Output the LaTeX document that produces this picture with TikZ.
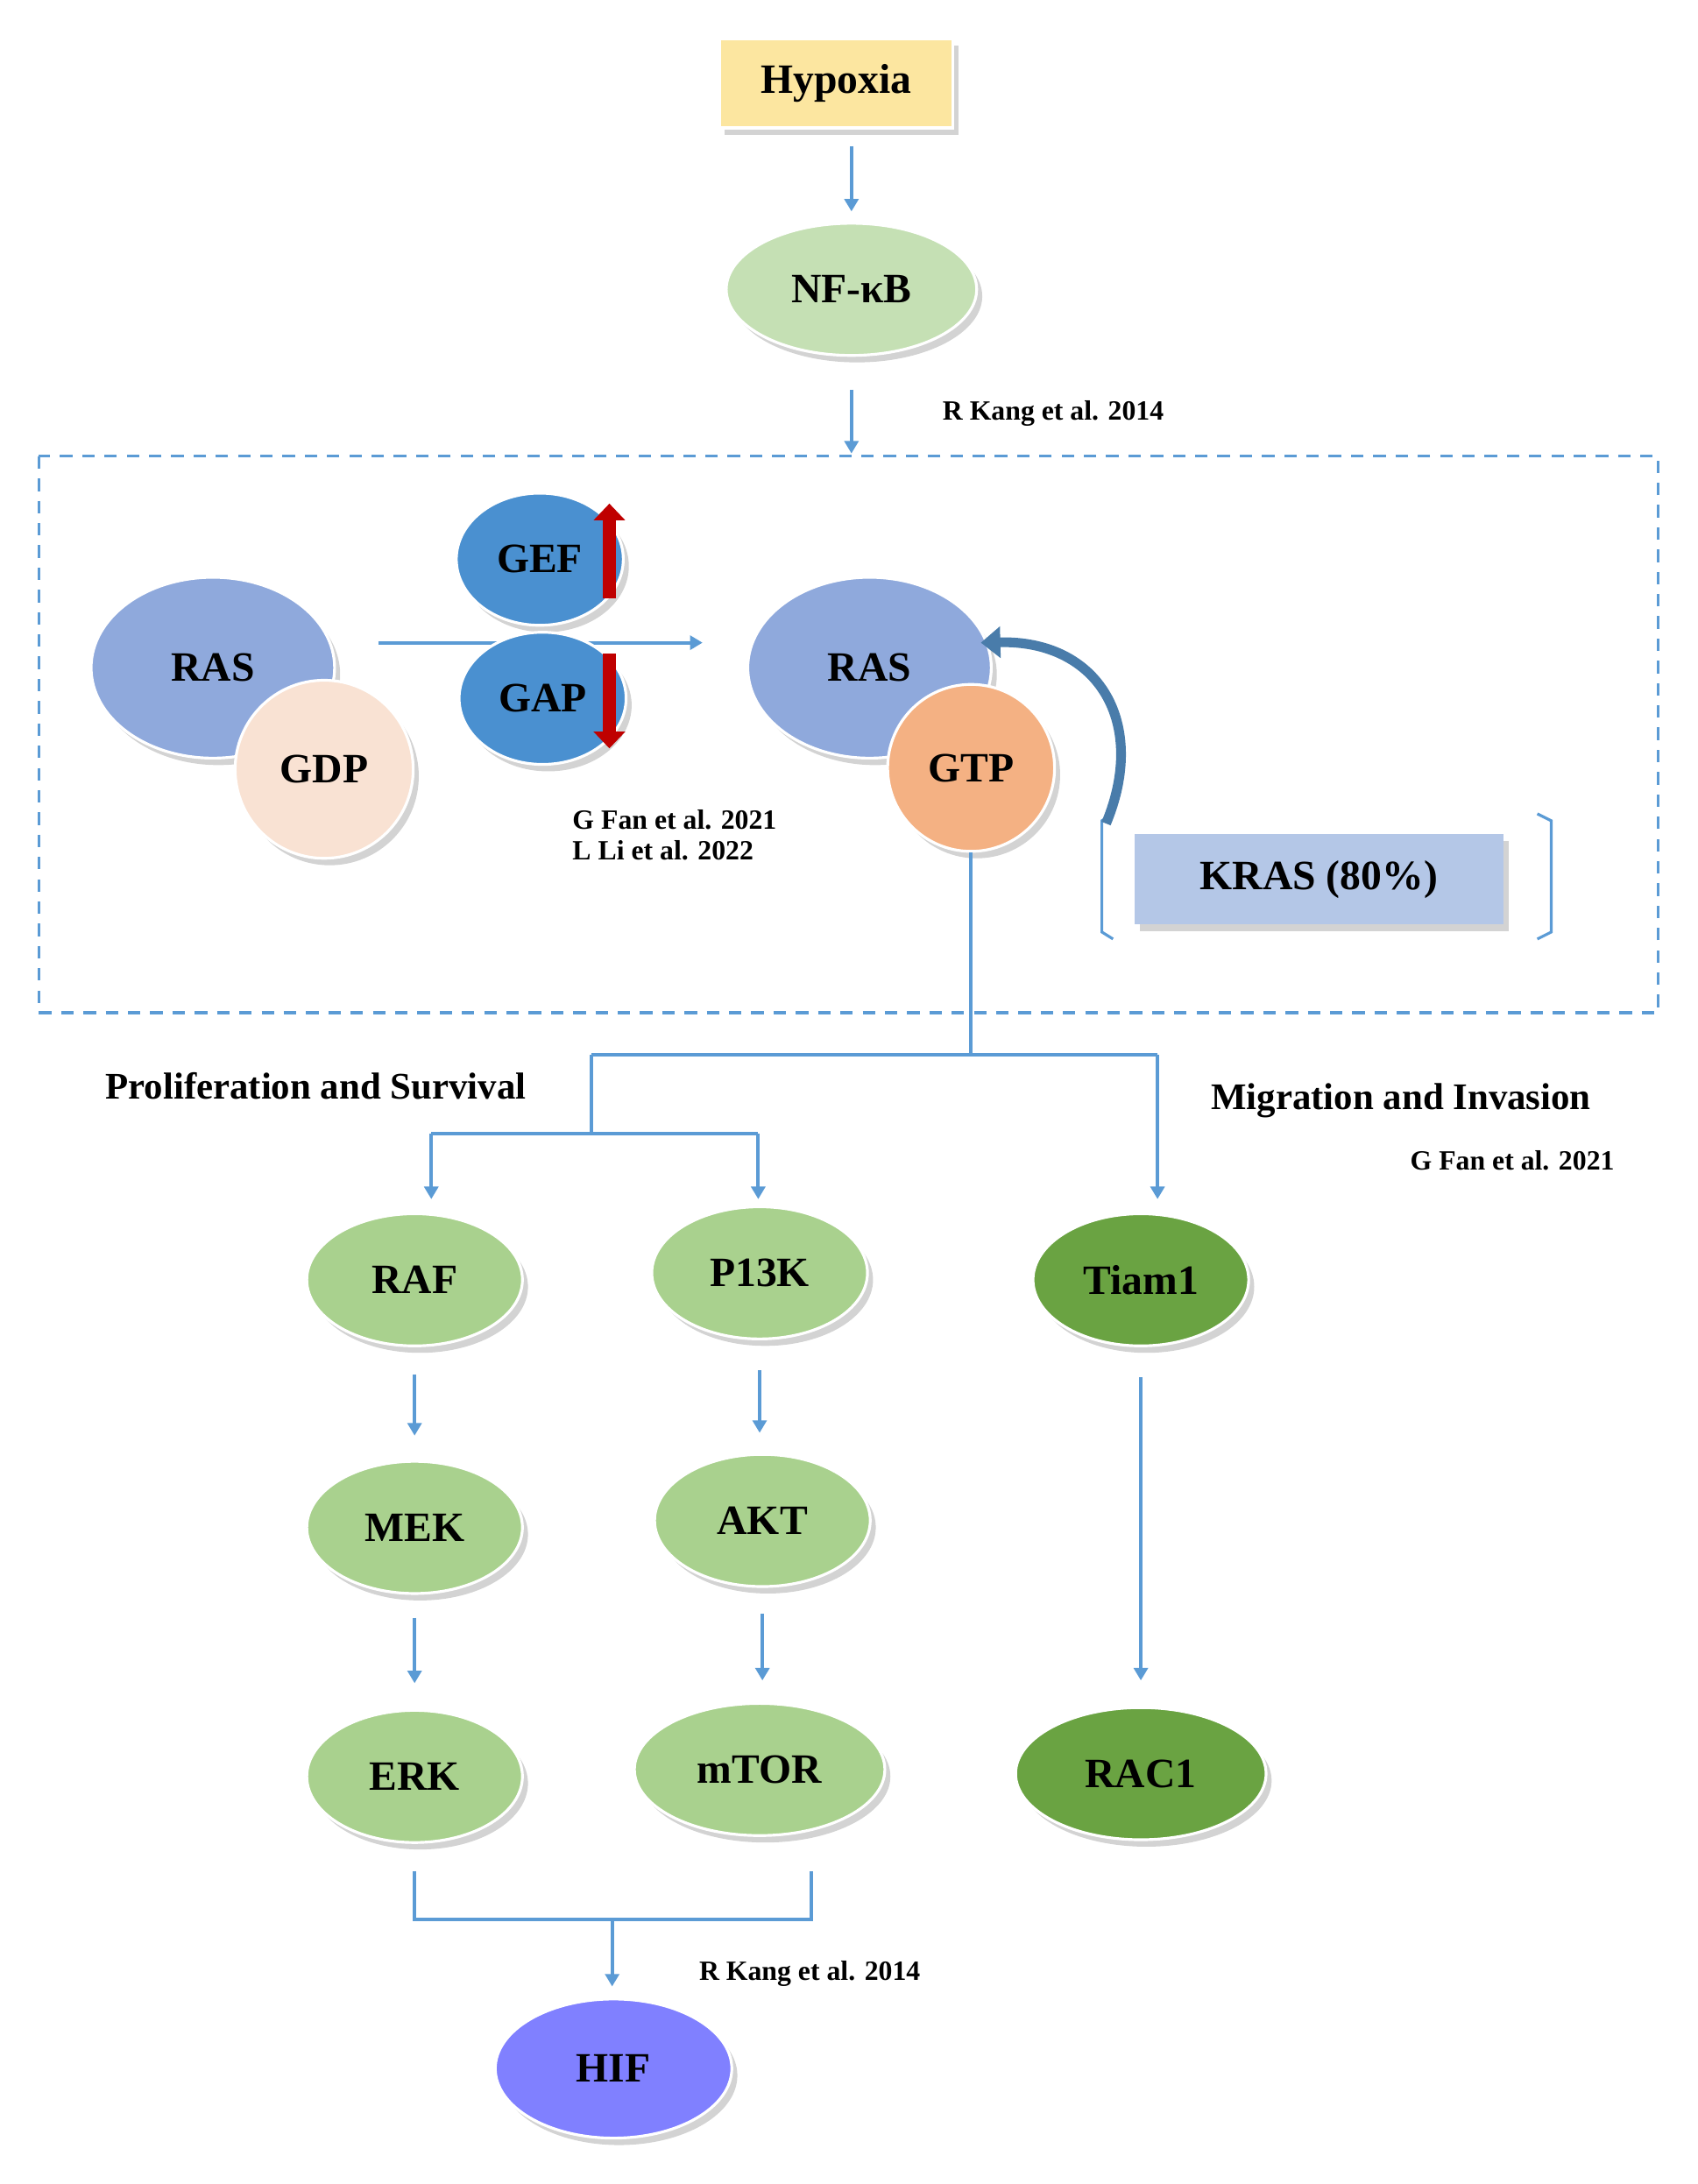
\documentclass[tikz,border=0pt]{standalone}
\usepackage{fontspec}
\setmainfont{Liberation Serif}
\usetikzlibrary{shapes.geometric,shadows,arrows.meta}
\definecolor{ln}{HTML}{5B9BD5}
\definecolor{lg}{HTML}{A9D18E}
\definecolor{dg}{HTML}{6AA342}
\begin{document}
\begin{tikzpicture}[x=1pt,y=-1pt,
 el/.style={ellipse,draw=white,line width=2pt,drop shadow={shadow xshift=4pt,shadow yshift=-5pt,opacity=.35},font=\bfseries\fontsize{30}{32}\selectfont,inner sep=0pt},
 gr/.style={el,fill=lg,minimum width=155,minimum height=95},
 ar/.style={ln,line width=2.5pt,-{Triangle[length=9pt,width=10pt]}},
 li/.style={ln,line width=2.5pt},
 ref/.style={font=\bfseries\fontsize{20}{22}\selectfont},
 lab/.style={font=\bfseries\fontsize{27}{29}\selectfont}]
\useasboundingbox (0,0) rectangle (1220,1570);
\node (hyp) [draw=white,line width=2pt,fill={rgb,255:red,252;green,230;blue,160},minimum width=168,minimum height=64,drop shadow={shadow xshift=4pt,shadow yshift=-5pt,opacity=.35},font=\bfseries\fontsize{30}{32}\selectfont] at (601,60) {Hypoxia};
\node (nf) [el,fill={rgb,255:red,197;green,224;blue,180},minimum width=180,minimum height=95] at (612,208) {NF-κB};
\draw[ar] (hyp.south) ++(11,12) coordinate (h1) -- (612,152);
\coordinate (n1) at (612,280); \coordinate (n2) at (612,326);
\draw[ar] (n1) -- (n2);
\node[ref] at (757,297) {R Kang et al. 2014};
\draw[ln,line width=2pt,dash pattern=on 9pt off 7pt] (28,328) rectangle (1192,728);
% left RAS
\node (ras1) [el,fill={rgb,255:red,143;green,169;blue,220},minimum width=175,minimum height=130] at (153,480) {RAS};
\node (gdp) [el,circle,fill={rgb,255:red,249;green,226;blue,211},minimum size=128] at (233,553) {GDP};
\coordinate (ha) at (272,462); \coordinate (hb) at (505,462);
\draw[ar] (ha) -- (hb);
\node (gef) [el,fill={rgb,255:red,74;green,144;blue,208},minimum width=120,minimum height=95] at (388,402) {GEF};
\node (gap) [el,fill={rgb,255:red,74;green,144;blue,208},minimum width=120,minimum height=95] at (390,502) {GAP};
\coordinate (g1) at (438,430); \coordinate (g2) at (438,362);
\coordinate (p1) at (438,470); \coordinate (p2) at (438,538);
\draw[red!75!black,line width=9pt,-{Triangle[length=12pt,width=22pt]}] (g1) -- (g2);
\draw[red!75!black,line width=9pt,-{Triangle[length=12pt,width=22pt]}] (p1) -- (p2);
\node[ref,align=left,anchor=west] at (408,600) {G Fan et al. 2021\\L Li et al. 2022};
% right RAS
\node (ras2) [el,fill={rgb,255:red,143;green,169;blue,220},minimum width=175,minimum height=130] at (625,480) {RAS};
\node (gtp) [el,circle,fill={rgb,255:red,244;green,177;blue,131},minimum size=120] at (698,552) {GTP};
\node (kras) [fill={rgb,255:red,180;green,199;blue,231},minimum width=265,minimum height=65,drop shadow={shadow xshift=4pt,shadow yshift=-5pt,opacity=.35},font=\bfseries\fontsize{30}{32}\selectfont] at (948,632) {KRAS (80\%)};
\draw[ln,line width=2pt] (800,585) -- (792,590) -- (792,670) -- (800,675);
\draw[ln,line width=2pt] (1105,585) -- (1115,590) -- (1115,670) -- (1105,675);
\coordinate (c1) at (795,592);
\draw[ln!80!black,line width=7pt,-{Triangle[length=14pt,width=22pt]}] (c1) .. controls (825,520) and (790,460) .. (705,462);
% branches
\coordinate (j0) at (698,758); \coordinate (jl) at (425,758); \coordinate (jr) at (832,758);
\coordinate (k0) at (425,815); \coordinate (kl) at (310,815); \coordinate (kr) at (545,815);
\draw[li] (gtp.south) -- (j0);
\draw[li] (jl) -- (jr);
\draw[li] (jl) -- (k0);
\draw[li] (kl) -- (kr);
\draw[ar] (kl) -- (310,862);
\draw[ar] (kr) -- (545,862);
\draw[ar] (jr) -- (832,862);
\node[lab] at (227,781) {Proliferation and Survival};
\node[lab] at (1007,791) {Migration and Invasion};
\node[ref] at (1087,834) {G Fan et al. 2021};
\node (raf) [gr] at (298,920) {RAF};
\node (pik) [gr] at (546,915) {P13K};
\node (tiam) [gr,fill=dg] at (820,920) {Tiam1};
\node (mek) [gr] at (298,1098) {MEK};
\node (akt) [gr] at (548,1093) {AKT};
\node (erk) [gr] at (298,1277) {ERK};
\node (mtor) [gr,minimum width=180] at (546,1272) {mTOR};
\node (rac) [gr,fill=dg,minimum width=180] at (820,1275) {RAC1};
\draw[ar] (298,988) -- (298,1032);
\draw[ar] (546,985) -- (546,1030);
\draw[ar] (298,1163) -- (298,1210);
\draw[ar] (548,1160) -- (548,1208);
\draw[ar] (820,990) -- (820,1208);
\coordinate (e1) at (298,1345); \coordinate (e2) at (298,1380);
\coordinate (e3) at (583,1380); \coordinate (e4) at (583,1345);
\coordinate (e5) at (440,1380);
\draw[li] (e1) -- (e2) -- (e3) -- (e4);
\node (hif) [el,fill={rgb,255:red,128;green,128;blue,255},minimum width=170,minimum height=100] at (441,1487) {HIF};
\draw[ar] (e5) -- (440,1428);
\node[ref] at (582,1419) {R Kang et al. 2014};
\end{tikzpicture}
\end{document}
